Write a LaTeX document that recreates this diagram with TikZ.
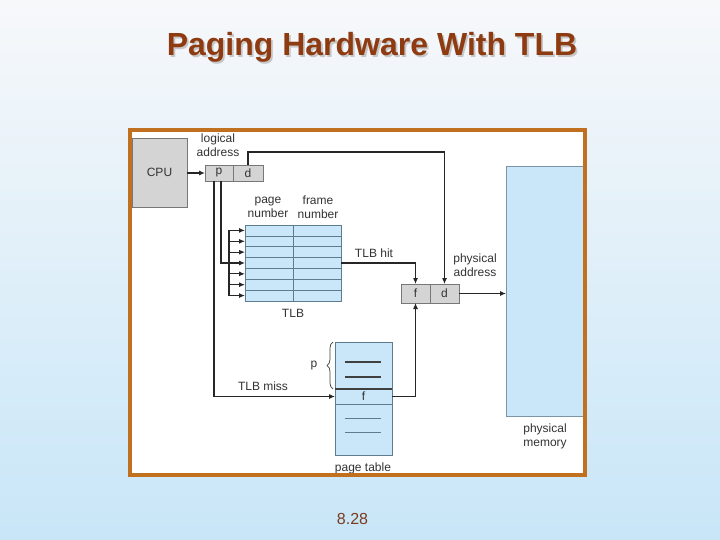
\documentclass[tikz,border=0pt]{standalone}
\usepackage{fontspec}
\setmainfont{Liberation Sans}
\usetikzlibrary{arrows.meta,decorations.pathreplacing,calc}
\definecolor{bgtop}{HTML}{F7F8FA}
\definecolor{bgbot}{HTML}{C8E6F8}
\definecolor{framec}{HTML}{C0701F}
\definecolor{titlec}{HTML}{8E3B12}
\definecolor{pagec}{HTML}{7B3B1E}
\definecolor{cellblue}{HTML}{C9E7F8}
\definecolor{cellline}{HTML}{5C7C90}
\definecolor{memline}{HTML}{7A95A8}
\definecolor{boxgray}{HTML}{D4D4D4}
\definecolor{boxline}{HTML}{777777}
\definecolor{txt}{HTML}{333333}
\newcommand{\titletext}{Paging Hardware With TLB}
\begin{document}
\begin{tikzpicture}[x=1pt,y=-1pt,
  lbl/.style={font=\fontsize{12}{14}\selectfont, text=txt, inner sep=0pt, align=center},
  graybox/.style={draw=boxline, line width=0.8pt, fill=boxgray, inner sep=0pt, outer sep=0pt,
    font=\fontsize{12}{14}\selectfont, text=txt},
  bluebox/.style={draw=cellline, line width=0.8pt, fill=cellblue, inner sep=0pt, outer sep=0pt},
  conn/.style={draw=black!85, line width=1.1pt},
  arr/.style={conn, -{Latex[length=6pt,width=5pt]}},
  cellrule/.style={draw=cellline, line width=0.7pt},
  darkrule/.style={draw=black!75, line width=1.1pt}]
\useasboundingbox (0,0) rectangle (720,540);
\shade[top color=bgtop, bottom color=bgbot] (0,0) rectangle (720,540);

% title (with drop shadow) and page number
\node[font=\bfseries\fontsize{32}{38}\selectfont, anchor=base, inner sep=0pt] (title) at (372,56)
  {\makebox[0pt][l]{\hspace{1.8pt}\raisebox{-1.8pt}{\color{black!22}\titletext}}\color{titlec}\titletext};
\node[font=\fontsize{16}{19}\selectfont, text=pagec, inner sep=0pt] (pnum) at (352.5,519) {8.28};

% frame interior
\fill[white] (130,130) rectangle (585,475);

% CPU and logical address
\node[graybox, minimum width=55pt, minimum height=69pt] (cpu) at (159.5,172.5) {CPU};
\node[graybox, minimum width=28pt, minimum height=16pt] (p) at (219,173) {p};
\node[graybox, minimum width=30pt, minimum height=16pt] (d) at (248,173) {d};
\node[lbl] (lalbl) at (218,145) {logical\\address};

% TLB
\node[bluebox, minimum width=96pt, minimum height=76pt] (tlb) at (293,263) {};
\foreach \k in {1,...,6}
  \draw[cellrule] ($(tlb.north west)!{\k/7}!(tlb.south west)$) -- ($(tlb.north east)!{\k/7}!(tlb.south east)$);
\draw[cellrule] (tlb.north) -- (tlb.south);
\node[lbl] (pnlbl) at (268,207) {page\\number};
\node[lbl] (fnlbl) at (318,207) {frame\\number};
\node[lbl] (tlblbl) at (293,313) {TLB};

% physical address
\node[graybox, minimum width=29pt, minimum height=19pt] (f) at (415.5,293.5) {f};
\node[graybox, minimum width=29pt, minimum height=19pt] (d2) at (444.5,293.5) {d};
\node[lbl] (palbl) at (475,265) {physical\\address};
\node[lbl] (hitlbl) at (374,253) {TLB hit};

% physical memory
\node[draw=memline, line width=0.8pt, fill=cellblue, minimum width=77pt, minimum height=250pt, inner sep=0pt, outer sep=0pt] (mem) at (544.5,291) {};
\node[lbl] (pmlbl) at (545,436) {physical\\memory};

% page table
\node[bluebox, minimum width=57pt, minimum height=113pt] (pt) at (363.5,398.5) {};
\node[inner sep=0pt, outer sep=0pt, minimum width=57pt, minimum height=15pt, font=\fontsize{12}{14}\selectfont, text=txt] (frow) at (363.5,396.5) {f};
\draw[darkrule] (frow.north west) -- (frow.north east);
\draw[cellrule] (frow.south west) -- (frow.south east);
\draw[darkrule] (345,362) -- (381,362);
\draw[darkrule] (345,377) -- (381,377);
\draw[cellrule] (345,418) -- (381,418);
\draw[cellrule] (345,432) -- (381,432);
\node[lbl] (ptlbl) at (363,468) {page table};
\draw[draw=black!75, line width=0.7pt, decorate, decoration={brace, amplitude=6pt}] (333,389) -- (333,342);
\node[lbl] (plbl) at (314,366) {p};
\node[lbl] (misslbl) at (263,386) {TLB miss};

% connectors
\coordinate (bus) at (229,0);
\coordinate (topl) at (0,152);
\foreach \k in {0,...,6}{
  \coordinate (r\k) at ($(tlb.north west)!{(\k+0.5)/7}!(tlb.south west)$);
  \draw[arr] (bus |- r\k) -- (r\k);
}
\draw[conn] (bus |- r0) -- (bus |- r6);
\draw[arr] (cpu.east |- p.west) -- (p.west);
\draw[arr] (d.north) -- (d.north |- topl) -| (d2.north);
\draw[arr] (tlb.east) -| (f.north);
\draw[conn] ([xshift=2pt]p.south) |- (bus |- r3);
\draw[arr] ([xshift=-5pt]p.south) |- (frow.west);
\draw[arr] (frow.east) -| (f.south);
\draw[arr] (d2.east) -- (d2.east -| mem.west);

% frame
\draw[framec, line width=4pt] (130,130) rectangle (585,475);
\end{tikzpicture}
\end{document}
